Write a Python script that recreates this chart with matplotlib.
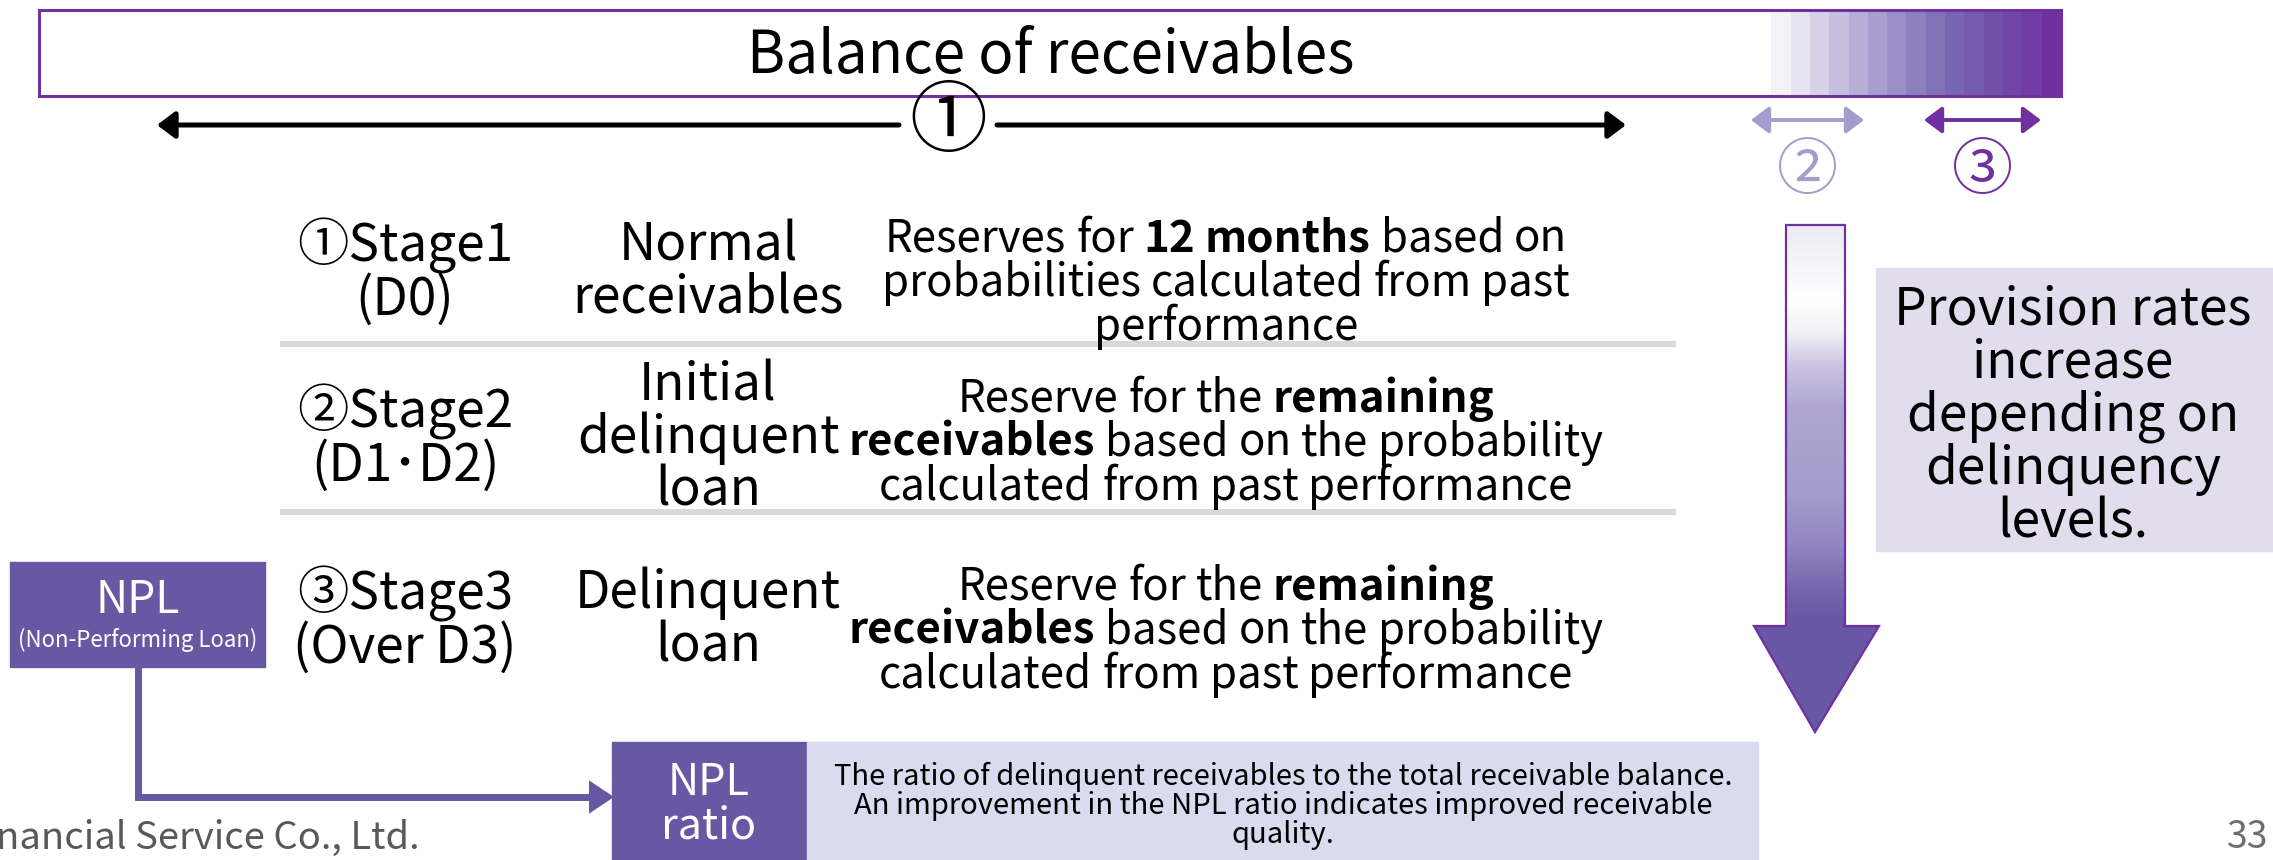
import numpy as np
import matplotlib
matplotlib.use("Agg")
import matplotlib.pyplot as plt
from matplotlib.patches import Rectangle, Polygon, FancyArrowPatch
from matplotlib.colors import LinearSegmentedColormap, ListedColormap

# ---------------- data ----------------
bar_title = "Balance of receivables"
range_marks = ["①", "②", "③"]
stage_labels = ["①Stage1\n(D0)", "②Stage2\n(D1･D2)", "③Stage3\n(Over D3)"]
categories = ["Normal\nreceivables", "Initial\ndelinquent\nloan", "Delinquent\nloan"]
descriptions = [
    [[("Reserves for", False), ("12 months", True), ("based on", False)],
     [("probabilities calculated from past", False)],
     [("performance", False)]],
    [[("Reserve for the", False), ("remaining", True)],
     [("receivables", True), ("based on the probability", False)],
     [("calculated from past performance", False)]],
    [[("Reserve for the", False), ("remaining", True)],
     [("receivables", True), ("based on the probability", False)],
     [("calculated from past performance", False)]],
]
npl_title = "NPL"
npl_sub = "(Non-Performing Loan)"
npl_ratio_label = "NPL\nratio"
npl_ratio_text = ("The ratio of delinquent receivables to the total receivable balance.\n"
                  "An improvement in the NPL ratio indicates improved receivable\n"
                  "quality.")
provision_text = "Provision rates\nincrease\ndepending on\ndelinquency\nlevels."
footer_left = "nancial Service Co., Ltd."
page_no = "33"

# ---------------- style ----------------
FONT = ["Noto Sans CJK JP", "DejaVu Sans"]
plt.rcParams["font.family"] = FONT
PURPLE = "#7030A0"
NPL_PURPLE = "#6858A4"
LIGHT_PURPLE = "#A49CCB"

W, H = 2273, 860
fig = plt.figure(figsize=(W / 100, H / 100), dpi=100)
ax = fig.add_axes([0, 0, 1, 1])
ax.set_xlim(0, W)
ax.set_ylim(H, 0)
ax.axis("off")
renderer = fig.canvas.get_renderer()

# ---- top bar ----
bar_cols = ["#FFFFFF", "#F3F2F8", "#E6E3F0", "#D6D1E8", "#C6BFDF", "#B6AED6",
            "#A89FCE", "#9A8FC6", "#8C80BE", "#8072B7", "#7866B2", "#755BAE",
            "#7350AA", "#7246A6", "#713CA3", "#7030A0"]
grad = np.arange(len(bar_cols))[None, :]
ax.imshow(grad, cmap=ListedColormap(bar_cols), extent=[1752, 2061, 96, 10],
          aspect="auto", zorder=1, interpolation="nearest")
ax.add_patch(Rectangle((39, 10), 2061 - 39, 86, fill=False, edgecolor=PURPLE,
                       lw=2.2, zorder=3))
ax.text(1051, 57, bar_title, ha="center", va="center", fontsize=42, zorder=4)

# ---- range arrows ----
def harrow(x0, x1, y, color, lw, style, ms=18):
    ax.add_patch(FancyArrowPatch((x0, y), (x1, y), arrowstyle=style,
                                 mutation_scale=ms, color=color, lw=lw,
                                 shrinkA=0, shrinkB=0, zorder=4))

harrow(899, 157, 125, "black", 3.6, "-|>,head_length=0.6,head_width=0.45")
harrow(997, 1626, 125, "black", 3.6, "-|>,head_length=0.6,head_width=0.45")
ax.text(948, 124, range_marks[0], ha="center", va="center", fontsize=56)
harrow(1751, 1864, 120, LIGHT_PURPLE, 2.8, "<|-|>,head_length=0.6,head_width=0.45")
harrow(1924, 2041, 120, PURPLE, 2.8, "<|-|>,head_length=0.6,head_width=0.45")
ax.text(1808, 172, range_marks[1], ha="center", va="center", fontsize=44,
        color=LIGHT_PURPLE)
ax.text(1983, 172, range_marks[2], ha="center", va="center", fontsize=44,
        color=PURPLE)

# ---- table ----
row_y = [272, 438, 620]
desc_y = [278, 438, 626]
for yy in (344, 512):
    ax.plot([280, 1676], [yy, yy], color="#D9D9D9", lw=4.3, solid_capstyle="butt")

def text_w(s, bold, size):
    t = ax.text(0, 0, s, fontsize=size, fontweight="bold" if bold else "normal")
    bb = t.get_window_extent(renderer)
    t.remove()
    return bb.width

def rich(xc, yc, lines, size, lsp):
    sp = text_w("a a", False, size) - text_w("aa", False, size)
    n = len(lines)
    for i, line in enumerate(lines):
        words = [(wd, b) for seg, b in line for wd in seg.split()]
        ws = [text_w(wd, b, size) for wd, b in words]
        total = sum(ws) + sp * (len(words) - 1)
        x = xc - total / 2
        y = yc + (i - (n - 1) / 2) * lsp
        for (wd, b), ww in zip(words, ws):
            ax.text(x, y, wd, ha="left", va="center_baseline", fontsize=size,
                    fontweight="bold" if b else "normal")
            x += ww + sp

for i in range(3):
    ax.text(405, row_y[i], stage_labels[i], ha="center", va="center",
            fontsize=37, linespacing=0.98)
    ax.text(708, row_y[i], categories[i], ha="center", va="center",
            fontsize=37, linespacing=0.98)
    rich(1226, desc_y[i], descriptions[i], 31.5, 44)

# ---- NPL box and connector ----
ax.add_patch(Rectangle((10, 562), 255, 105, color=NPL_PURPLE, zorder=2))
ax.text(138, 600, npl_title, ha="center", va="center", fontsize=32, color="white")
ax.text(138, 640, npl_sub, ha="center", va="center", fontsize=16, color="white")
ax.plot([138, 138, 600], [667, 797, 797], color=NPL_PURPLE, lw=5,
        solid_joinstyle="miter", solid_capstyle="butt")
ax.add_patch(FancyArrowPatch((590, 797), (614, 797),
                             arrowstyle="-|>,head_length=0.9,head_width=0.6",
                             mutation_scale=20, color=NPL_PURPLE, lw=0,
                             shrinkA=0, shrinkB=0))

# ---- NPL ratio box ----
ax.add_patch(Rectangle((612, 742), 195, 118, color=NPL_PURPLE, zorder=2))
ax.text(709, 805, npl_ratio_label, ha="center", va="center", fontsize=31,
        color="white", linespacing=0.98, zorder=3)
ax.add_patch(Rectangle((807, 742), 951, 118, color="#D9DCEE", zorder=2))
ax.text(1283, 806, npl_ratio_text, ha="center", va="center", fontsize=21,
        linespacing=0.97, zorder=3)

# ---- vertical gradient arrow ----
arrow_pts = [(1786, 225), (1845, 225), (1845, 626), (1879, 626), (1815, 732),
             (1754, 626), (1786, 626)]
poly = Polygon(arrow_pts, closed=True, facecolor="none", edgecolor=PURPLE,
               lw=1.6, zorder=4)
ax.add_patch(poly)
vcmap = LinearSegmentedColormap.from_list("v", [
    (0.0, "#ECEBF3"), (0.15, "#FFFFFF"), (0.21, "#F2F1F7"), (0.28, "#C9C2E0"),
    (0.36, "#AEA6D1"), (0.53, "#A49CCB"), (0.63, "#9387C2"), (0.73, "#7263AB"),
    (0.78, "#6858A4"), (1.0, "#6858A4")])
vg = np.linspace(0, 1, 256)[:, None]
im = ax.imshow(vg, cmap=vcmap, extent=[1754, 1879, 732, 225], aspect="auto",
               zorder=3, interpolation="bilinear")
im.set_clip_path(Polygon(arrow_pts, closed=True, transform=ax.transData))

# ---- provision box ----
ax.add_patch(Rectangle((1876, 268), 397, 283, color="#E1DDED", zorder=2))
ax.text(2073, 416, provision_text, ha="center", va="center", fontsize=37,
        linespacing=0.99, zorder=3)

# ---- footer ----
ax.text(-4, 838, footer_left, ha="left", va="center", fontsize=27.5, color="#595959")
ax.text(2268, 838, page_no, ha="right", va="center", fontsize=27, color="#6F6F6F")

fig.savefig("out.png", dpi=100)
